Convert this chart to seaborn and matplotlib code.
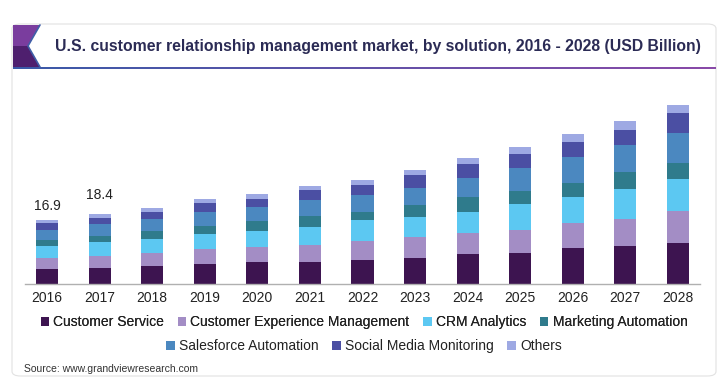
import numpy as np
import pandas as pd
import matplotlib
matplotlib.use("Agg")
import matplotlib.pyplot as plt
import seaborn as sns
from matplotlib.patches import Patch, Polygon, FancyBboxPatch

years = ["2016", "2017", "2018", "2019", "2020", "2021", "2022",
         "2023", "2024", "2025", "2026", "2027", "2028"]
customer_service = [4.0, 4.3, 4.75, 5.3, 5.9, 5.9, 6.3, 6.8, 7.9, 8.1, 9.4, 10.0, 10.7]
customer_experience = [2.9, 3.1, 3.35, 3.9, 3.8, 4.4, 5.0, 5.5, 5.5, 6.2, 6.6, 7.3, 8.6]
crm_analytics = [3.2, 3.6, 3.7, 4.0, 4.4, 4.7, 5.5, 5.3, 5.7, 6.8, 7.0, 7.9, 8.5]
marketing_automation = [1.5, 1.65, 2.3, 2.2, 2.55, 3.0, 2.2, 3.25, 3.8, 3.35, 3.7, 4.4, 4.1]
salesforce_automation = [2.65, 3.1, 3.1, 3.5, 3.8, 4.2, 4.6, 4.4, 5.0, 6.3, 6.9, 7.0, 8.0]
social_media = [1.75, 1.6, 1.9, 2.4, 2.0, 2.5, 2.65, 3.5, 3.7, 3.5, 3.8, 4.1, 5.3]
others = [0.9, 1.05, 1.05, 1.15, 1.3, 1.3, 1.15, 1.3, 1.6, 1.85, 2.1, 2.45, 2.1]

series_names = ["Customer Service", "Customer Experience Management", "CRM Analytics",
                "Marketing Automation", "Salesforce Automation",
                "Social Media Monitoring", "Others"]
series_values = [customer_service, customer_experience, crm_analytics,
                 marketing_automation, salesforce_automation, social_media, others]
colors = ["#3d1450", "#a38dc5", "#5cc8f2", "#2f7b8c", "#4b88c0", "#4b4fa3", "#9ea9e3"]

labelled_years = ["2016", "2017"]
labelled_values = ["16.9", "18.4"]

title = "U.S. customer relationship management market, by solution, 2016 - 2028 (USD Billion)"
source = "Source: www.grandviewresearch.com"

sns.set_theme(style="white")
plt.rcParams["font.family"] = ["Liberation Sans", "DejaVu Sans"]

W, H = 723, 388
fig = plt.figure(figsize=(W / 100, H / 100), dpi=100)
fig.patch.set_facecolor("white")

def fx(px):
    return px / W

def fy(py):
    return 1 - py / H

# card border
card = FancyBboxPatch((fx(12), fy(376)), fx(716) - fx(12), fy(24) - fy(376),
                      boxstyle="round,pad=0,rounding_size=0.012",
                      transform=fig.transFigure, facecolor="none",
                      edgecolor="#e2e2e2", linewidth=0.8, zorder=-1)
fig.patches.append(card)

# header decoration
deco_top = Polygon([(fx(13), fy(25)), (fx(40), fy(25)), (fx(28), fy(46)),
                    (fx(40), fy(67)), (fx(13), fy(67))],
                   closed=True, transform=fig.transFigure,
                   facecolor="#7a3d9e", edgecolor="none", zorder=1)
deco_bottom = Polygon([(fx(13), fy(46)), (fx(28), fy(46)), (fx(40), fy(67)),
                       (fx(13), fy(67))],
                      closed=True, transform=fig.transFigure,
                      facecolor="#4e1f6e", edgecolor="none", zorder=1)
deco_line = matplotlib.lines.Line2D([fx(40), fx(28), fx(40)], [fy(25), fy(46), fy(67)],
                                    transform=fig.transFigure, color="#3f5fa8",
                                    linewidth=1.2, zorder=2)
fig.patches.extend([deco_top, deco_bottom])
fig.lines.append(deco_line)

# gradient underline
grad = np.linspace(0, 1, 256).reshape(1, -1)
cmap = matplotlib.colors.LinearSegmentedColormap.from_list("u", ["#3a5aa8", "#8a4aa8"])
ax_line = fig.add_axes([fx(13), fy(69), fx(716) - fx(13), fy(66.5) - fy(69)])
ax_line.imshow(grad, aspect="auto", cmap=cmap)
ax_line.set_axis_off()

fig.text(fx(55), fy(46), title, fontsize=11.3, fontweight="bold",
         color="#2b2b55", ha="left", va="center")

# main axes
ax = fig.add_axes([fx(25), fy(284), fx(700) - fx(25), fy(94.7) - fy(284)])
ax.set_facecolor("none")

cum = np.cumsum(np.array(series_values), axis=0)
for i in range(len(series_names) - 1, -1, -1):
    sns.barplot(x=years, y=cum[i], color=colors[i], saturation=1, width=0.42,
                linewidth=0, ax=ax, zorder=2)

ax.set_ylim(0, 50)
ax.set_xlim(-0.42, 12.42)
ax.set_xlabel("")
ax.set_ylabel("")
ax.set_yticks([])
for s in ["top", "right", "left"]:
    ax.spines[s].set_visible(False)
ax.spines["bottom"].set_color("#b0b0b0")
ax.spines["bottom"].set_linewidth(1.0)
ax.tick_params(axis="x", length=0, pad=5, labelsize=10, labelcolor="#222222")

totals = cum[-1]
offsets = [10, 14]
for yr, lab, off in zip(labelled_years, labelled_values, offsets):
    idx = years.index(yr)
    ax.annotate(lab, (idx, totals[idx]), xytext=(0, off), textcoords="offset points",
                ha="center", va="center", fontsize=10, color="#222222")

handles = [Patch(facecolor=c, edgecolor="none") for c in colors]
leg_kw = dict(loc="center", frameon=False, fontsize=10, handlelength=0.6,
              handleheight=0.6, handletextpad=0.3, columnspacing=1.0,
              borderaxespad=0, labelcolor="#222222")
leg1 = fig.legend(handles[:4], series_names[:4], bbox_to_anchor=(fx(364), fy(322)),
                  ncol=4, **leg_kw)
leg2 = fig.legend(handles[4:], series_names[4:], bbox_to_anchor=(fx(364), fy(346)),
                  ncol=3, **leg_kw)
fig.add_artist(leg1)

fig.text(fx(24), fy(369), source, fontsize=7.5, color="#333333",
         ha="left", va="center")

fig.savefig("out.png", dpi=100)
